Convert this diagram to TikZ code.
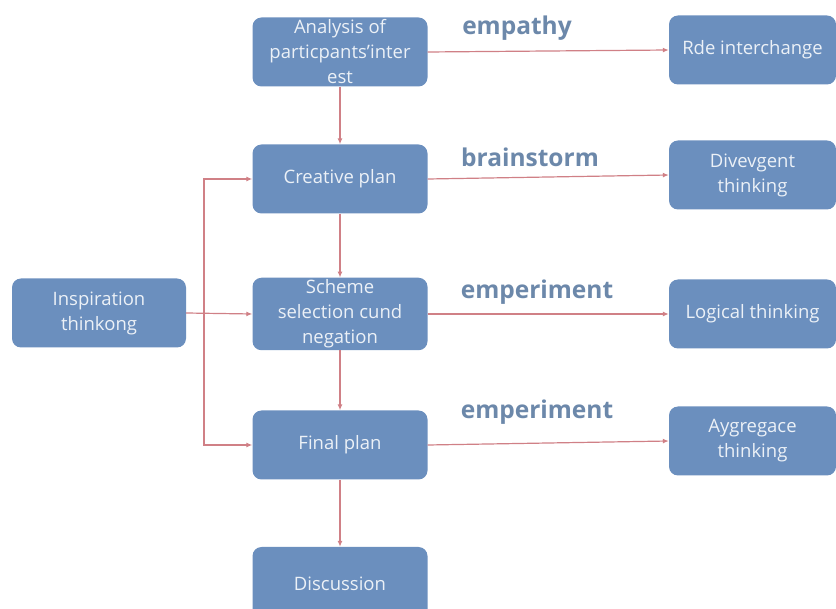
\documentclass[tikz,border=0pt]{standalone}
\usepackage{fontspec}
\setmainfont{Open Sans}
\definecolor{boxfill}{RGB}{107, 143, 190}
\definecolor{boxtext}{RGB}{236, 241, 247}
\definecolor{linkred}{RGB}{208, 128, 134}
\definecolor{tagblue}{RGB}{108, 136, 170}
\usetikzlibrary{positioning, arrows.meta}
\tikzset{
    box/.style={rounded corners=9pt, fill=boxfill, text=boxtext,
        minimum width=175pt, minimum height=69pt, inner sep=2pt,
        align=center, font=\fontsize{18.5}{25}\selectfont},
    sidebox/.style={box, minimum width=167pt},
    link/.style={draw=linkred, line width=1.2pt,
        -{Latex[length=6pt, width=5pt]}},
    tag/.style={text=tagblue, font=\bfseries\fontsize{24.5}{26}\selectfont},
}

\begin{document}
\begin{tikzpicture}[x=1pt, y=-1pt]
    \useasboundingbox (0, 0) rectangle (836, 609);
    % middle column
    \node[box] (analysis) at (340, 52) {Analysis of\\particpants'inter\\est};
    \node[box] (creative) at (340, 179) {Creative plan};
    \node[box] (scheme) at (340, 314) {Scheme\\selection cund\\negation};
    \node[box] (final) at (340, 445) {Final plan};
    \node[box, minimum height=80pt] (discuss) at (340, 587)
        {\raisebox{6pt}{Discussion}};
    \node[box, minimum width=174pt] (insp) at (99, 313) {Inspiration\\thinkong};
    % right column
    \node[sidebox] (rde) at (752.5, 50) {Rde interchange};
    \node[sidebox] (diverge) at (752.5, 175) {Divevgent\\thinking};
    \node[sidebox] (logic) at (752.5, 314) {Logical thinking};
    \node[sidebox] (aggreg) at (752.5, 441) {Aygregace\\thinking};
    % words over the links
    \node[tag] (empathy) at (517, 28) {empathy};
    \node[tag] (brain) at (530, 157) {brainstorm};
    \node[tag] (experA) at (537, 292) {emperiment};
    \node[tag] (experB) at (537, 412) {emperiment};
    \foreach \a/\b in {analysis/creative, creative/scheme, scheme/final,
        final/discuss} {
        \draw[link] (\a) -- (\b);
    }
    \foreach \a/\b in {analysis/rde, creative/diverge, scheme/logic,
        final/aggreg} {
        \draw[link] (\a.east) -- (\b.west);
    }
    \coordinate (fork) at (204, 313);
    \draw[link] (insp.east) -- (scheme.west);
    \draw[link] (fork) |- (creative.west);
    \draw[link] (fork) |- (final.west);
\end{tikzpicture}
\end{document}
